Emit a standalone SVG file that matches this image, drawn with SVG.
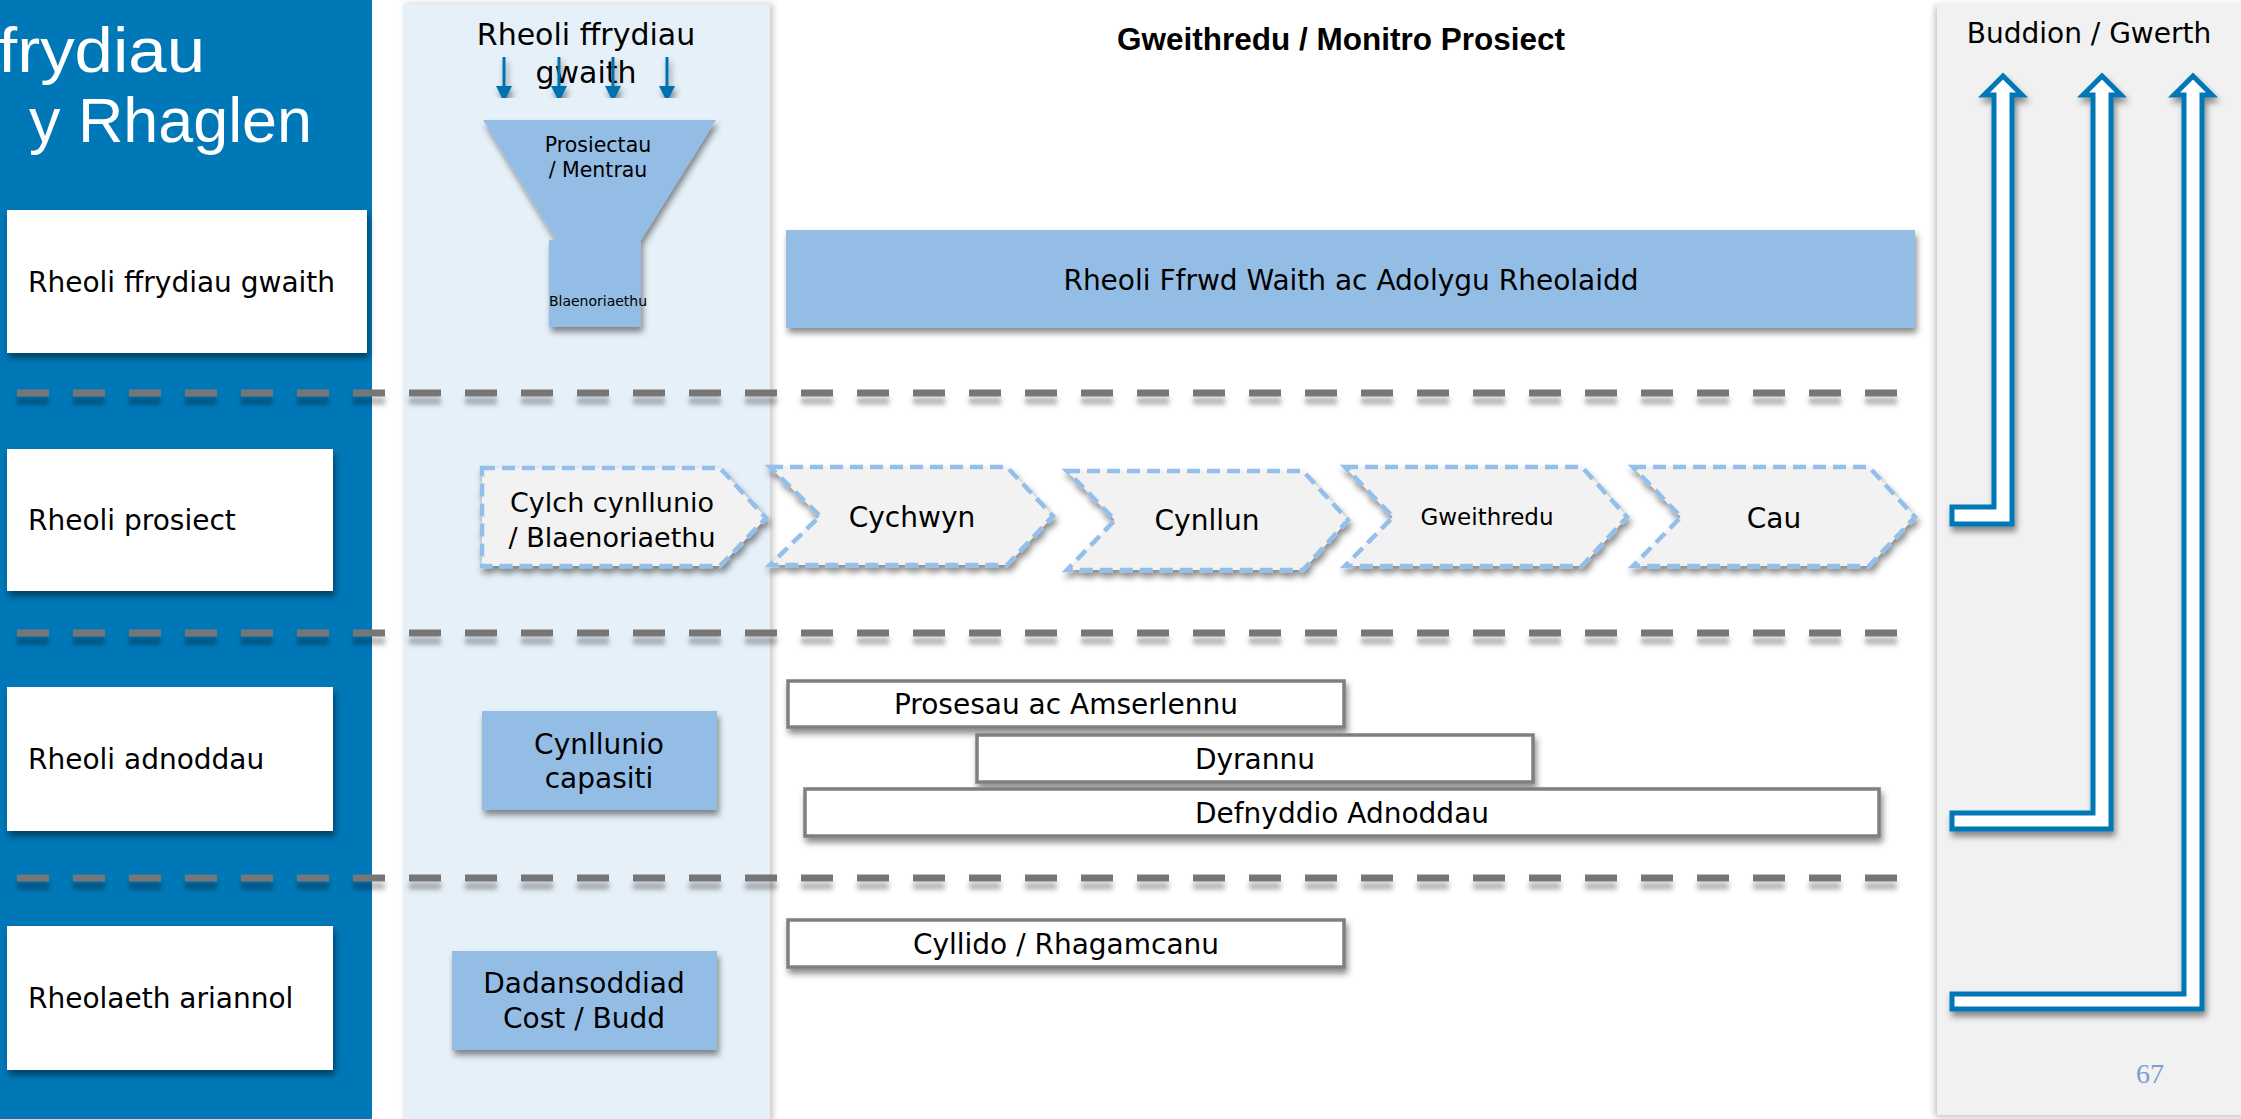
<svg xmlns="http://www.w3.org/2000/svg" width="2241" height="1119" viewBox="0 0 2241 1119">
<defs>
<style>
.t{font-family:"DejaVu Sans","Liberation Sans",sans-serif;font-size:28px;fill:#000}
.c{text-anchor:middle}
.wbox{fill:#fff}
.lb{fill:#94BDE6}
.chev{fill:#F2F2F2;stroke:#93BFEA;stroke-width:4.5;stroke-dasharray:13 7;stroke-linejoin:miter}
.gbox{fill:#fff;stroke:#7F7F7F;stroke-width:3.5}
.dash{stroke:#767676;stroke-width:7;stroke-dasharray:32 24;fill:none}
.harrow{fill:#fff;stroke:#0077B6;stroke-width:5;stroke-linejoin:miter}
.darrow{stroke:#0070B0;stroke-width:3;fill:none}
.ttl{font-family:"Liberation Sans",sans-serif;font-size:63px;fill:#fff}
</style>
<filter id="sh" x="-10%" y="-20%" width="130%" height="160%"><feDropShadow dx="2" dy="5" stdDeviation="3" flood-color="#000" flood-opacity="0.45"/></filter>
<filter id="shd" x="-5%" y="-100%" width="110%" height="400%"><feDropShadow dx="0" dy="8" stdDeviation="2.5" flood-color="#000" flood-opacity="0.3"/></filter>
<filter id="shr" x="-5%" y="-5%" width="110%" height="110%"><feDropShadow dx="3" dy="0" stdDeviation="3" flood-color="#000" flood-opacity="0.22"/></filter>
<filter id="shl" x="-5%" y="-5%" width="110%" height="110%"><feDropShadow dx="-2" dy="2" stdDeviation="3" flood-color="#000" flood-opacity="0.25"/></filter>
<marker id="ah" viewBox="0 0 16 16" refX="0" refY="8" markerWidth="16" markerHeight="16" markerUnits="userSpaceOnUse" orient="auto"><path d="M0,0 L16,8 L0,16 z" fill="#0070B0"/></marker>
</defs>

<g id="backgrounds">
<rect x="0" y="0" width="372" height="1119" fill="#0077B6"/>
<rect x="403" y="4" width="367" height="1120" fill="#E6F0F8" filter="url(#shr)"/>
<rect x="1937" y="4" width="310" height="1111" fill="#F1F1F1" filter="url(#shl)"/>
</g>

<g id="title">
<text class="ttl" x="-2" y="72" textLength="207" lengthAdjust="spacingAndGlyphs">frydiau</text>
<text class="ttl" x="29" y="142" textLength="283" lengthAdjust="spacingAndGlyphs">y Rhaglen</text>
</g>

<g id="separators" filter="url(#shd)">
<line class="dash" x1="17" y1="393" x2="1897" y2="393"/>
<line class="dash" x1="17" y1="633" x2="1897" y2="633"/>
<line class="dash" x1="17" y1="878" x2="1897" y2="878"/>
</g>

<g id="row-labels">
<g id="lbl-ffrydiau"><rect class="wbox" x="7" y="210" width="360" height="143" filter="url(#sh)"/><text class="t" x="28" y="292">Rheoli ffrydiau gwaith</text></g>
<g id="lbl-prosiect"><rect class="wbox" x="7" y="449" width="326" height="142" filter="url(#sh)"/><text class="t" x="28" y="530">Rheoli prosiect</text></g>
<g id="lbl-adnoddau"><rect class="wbox" x="7" y="687" width="326" height="144" filter="url(#sh)"/><text class="t" x="28" y="769">Rheoli adnoddau</text></g>
<g id="lbl-ariannol"><rect class="wbox" x="7" y="926" width="326" height="144" filter="url(#sh)"/><text class="t" x="28" y="1008">Rheolaeth ariannol</text></g>
</g>

<g id="funnel">
<g filter="url(#sh)">
<path class="lb" d="M483,120 L716,120 L641,240 L641,327 L549,327 L549,240 L556,240 Z"/>
</g>
<text class="t c" x="598" y="152" style="font-size:20.5px">Prosiectau</text>
<text class="t c" x="598" y="177" style="font-size:20.5px">/ Mentrau</text>
<text class="t c" x="598" y="306" style="font-size:14px">Blaenoriaethu</text>
</g>

<g id="header-ffrydiau">
<text class="t c" x="586" y="45" style="font-size:30px">Rheoli ffrydiau</text>
<text class="t c" x="586" y="83" style="font-size:30px">gwaith</text>
</g>

<g id="inflow-arrows" filter="url(#sh)">
<line class="darrow" x1="504" y1="57" x2="504" y2="86" marker-end="url(#ah)"/>
<line class="darrow" x1="559" y1="57" x2="559" y2="86" marker-end="url(#ah)"/>
<line class="darrow" x1="613" y1="57" x2="613" y2="86" marker-end="url(#ah)"/>
<line class="darrow" x1="667" y1="57" x2="667" y2="86" marker-end="url(#ah)"/>
</g>

<g id="main-title">
<text x="1341" y="50" class="c" style="font-family:'Liberation Sans',sans-serif;font-weight:bold;font-size:31.5px;fill:#000">Gweithredu / Monitro Prosiect</text>
</g>

<g id="workflow-bar">
<rect class="lb" x="786" y="230" width="1129" height="98" filter="url(#sh)"/>
<text class="t c" x="1351" y="290">Rheoli Ffrwd Waith ac Adolygu Rheolaidd</text>
</g>

<g id="phases">
<g id="phase-cylch"><path class="chev" filter="url(#sh)" d="M482,468 L720,468 L766,518 L720,566 L482,566 Z"/>
<text class="t c" x="612" y="512" style="font-size:27px">Cylch cynllunio</text>
<text class="t c" x="612" y="547" style="font-size:27px">/ Blaenoriaethu</text></g>
<g id="phase-cychwyn"><path class="chev" filter="url(#sh)" d="M770,467 L1007,467 L1053,516 L1007,565 L770,565 L820,516 Z"/>
<text class="t c" x="912" y="527">Cychwyn</text></g>
<g id="phase-cynllun"><path class="chev" filter="url(#sh)" d="M1067,471 L1303,471 L1348,520 L1303,570 L1067,570 L1115,520 Z"/>
<text class="t c" x="1207" y="530">Cynllun</text></g>
<g id="phase-gweithredu"><path class="chev" filter="url(#sh)" d="M1345,467 L1582,467 L1627,517 L1582,566 L1345,566 L1393,517 Z"/>
<text class="t c" x="1487" y="525" style="font-size:23px">Gweithredu</text></g>
<g id="phase-cau"><path class="chev" filter="url(#sh)" d="M1633,467 L1869,467 L1915,517 L1869,566 L1633,566 L1681,517 Z"/>
<text class="t c" x="1774" y="528">Cau</text></g>
</g>

<g id="capasiti"><rect class="lb" x="482" y="711" width="235" height="99" filter="url(#sh)"/>
<text class="t c" x="599" y="754">Cynllunio</text>
<text class="t c" x="599" y="788">capasiti</text></g>

<g id="cost-budd"><rect class="lb" x="452" y="951" width="265" height="99" filter="url(#sh)"/>
<text class="t c" x="584" y="993">Dadansoddiad</text>
<text class="t c" x="584" y="1028">Cost / Budd</text></g>

<g id="resources">
<g id="res-prosesau"><rect class="gbox" x="788" y="681" width="556" height="46" filter="url(#sh)"/><text class="t c" x="1066" y="714">Prosesau ac Amserlennu</text></g>
<g id="res-dyrannu"><rect class="gbox" x="977" y="735" width="556" height="47" filter="url(#sh)"/><text class="t c" x="1255" y="769">Dyrannu</text></g>
<g id="res-defnyddio"><rect class="gbox" x="805" y="789" width="1074" height="47" filter="url(#sh)"/><text class="t c" x="1342" y="823">Defnyddio Adnoddau</text></g>
<g id="res-cyllido"><rect class="gbox" x="788" y="920" width="556" height="47" filter="url(#sh)"/><text class="t c" x="1066" y="954">Cyllido / Rhagamcanu</text></g>
</g>

<g id="benefits-title"><text class="t c" x="2089" y="43">Buddion / Gwerth</text></g>

<g id="connectors" filter="url(#sh)">
<path class="harrow" d="M1952,507 H1994 V95 H1984 L2003,76 L2022,95 H2012 V524 H1952 Z"/>
<path class="harrow" d="M1952,813 H2093 V95 H2083 L2102,76 L2121,95 H2111 V829 H1952 Z"/>
<path class="harrow" d="M1952,994 H2184 V95 H2174 L2193,76 L2212,95 H2202 V1009 H1952 Z"/>
</g>

<g id="page-number"><text x="2150" y="1083" text-anchor="middle" style="font-family:'Liberation Serif',serif;font-size:28px;fill:#7F9CCB">67</text></g>
</svg>
